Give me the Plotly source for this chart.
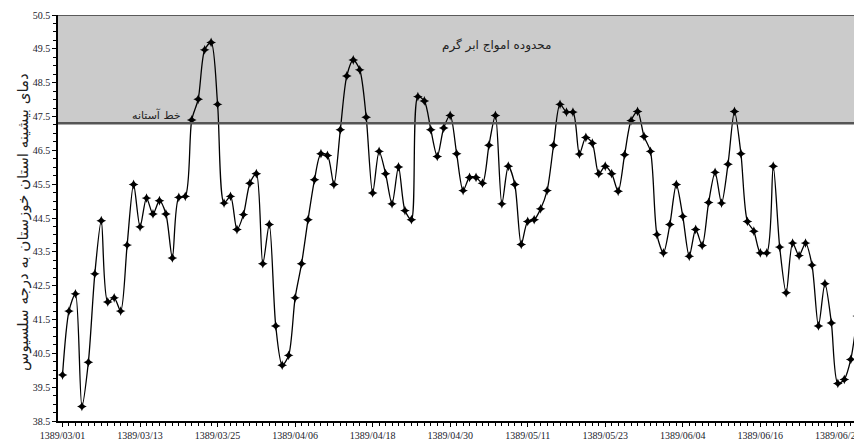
import plotly.graph_objects as go

# Daily maximum temperature, index 0 = 1389/03/01
temps = [39.86, 41.75, 42.26, 38.93, 40.24, 42.85, 44.42, 42.02, 42.14, 41.75,
         43.70, 45.49, 44.24, 45.09, 44.62, 45.01, 44.62, 43.32, 45.11, 45.14,
         47.40, 48.01, 49.47, 49.69, 47.86, 44.94, 45.14, 44.16, 44.60, 45.53,
         45.81, 43.15, 44.31, 41.31, 40.15, 40.44, 42.14, 43.15, 44.45, 45.63,
         46.40, 46.35, 45.49, 47.11, 48.70, 49.17, 48.88, 47.48, 45.24, 46.47,
         45.81, 44.92, 46.01, 44.72, 44.45, 48.09, 47.96, 47.11, 46.32, 47.16,
         47.53, 46.40, 45.31, 45.70, 45.70, 45.53, 46.65, 47.53, 44.92, 46.03,
         45.49, 43.72, 44.40, 44.45, 44.77, 45.31, 46.65, 47.86, 47.63, 47.63,
         46.39, 46.88, 46.71, 45.81, 46.03, 45.81, 45.29, 46.37, 47.38, 47.65,
         46.91, 46.47, 44.01, 43.47, 44.31, 45.49, 44.55, 43.37, 44.16, 43.69,
         44.96, 45.85, 44.94, 46.09, 47.65, 46.40, 44.40, 44.11, 43.47, 43.47,
         46.03, 43.64, 42.29, 43.76, 43.39, 43.76, 43.11, 41.31, 42.56, 41.40,
         39.61, 39.73, 40.32, 41.6]
days = list(range(len(temps)))

tick_days = [0, 12, 24, 36, 48, 60, 72, 84, 96, 108, 120]
tick_labels = ["1389/03/01", "1389/03/13", "1389/03/25", "1389/04/06", "1389/04/18",
               "1389/04/30", "1389/05/11", "1389/05/23", "1389/06/04", "1389/06/16",
               "1389/06/28"]
y_ticks = [38.5, 39.5, 40.5, 41.5, 42.5, 43.5, 44.5, 45.5, 46.5, 47.5, 48.5, 49.5, 50.5]

threshold = 47.3
y_min, y_max = 38.5, 50.5
x_min, x_max = -0.7, 122.5

fig = go.Figure()
fig.add_shape(type="rect", xref="paper", yref="y", x0=0, x1=1, y0=threshold, y1=y_max,
              fillcolor="rgb(203,203,203)", line=dict(width=0), layer="below")
fig.add_shape(type="line", xref="paper", yref="y", x0=0, x1=1, y0=threshold, y1=threshold,
              line=dict(color="rgb(85,85,85)", width=2.5))
fig.add_shape(type="line", xref="paper", yref="y", x0=0, x1=1, y0=y_max, y1=y_max,
              line=dict(color="rgb(90,90,90)", width=2))

fig.add_trace(go.Scatter(
    x=days, y=temps, mode="lines+markers",
    line=dict(color="black", width=1.3, shape="spline", smoothing=0.8),
    marker=dict(symbol="star-diamond", size=7, color="black"),
    cliponaxis=True, showlegend=False))

fig.add_annotation(x=0.551, xref="paper", y=49.6, yref="y", text="محدوده امواج ابر گرم",
                   showarrow=False, font=dict(family="DejaVu Sans", size=12, color="#222"))
fig.add_annotation(x=0.091, xref="paper", y=47.55, yref="y", text="خط آستانه",
                   showarrow=False, font=dict(family="DejaVu Sans", size=11, color="#222"))
fig.add_annotation(x=-0.058, xref="paper", y=0.49, yref="paper",
                   text="دمای بیشینه استان خوزستان به درجه سلسیوس",
                   textangle=-90, showarrow=False,
                   font=dict(family="DejaVu Sans", size=15, color="#222"))

fig.update_layout(
    template="none",
    width=854, height=443,
    margin=dict(l=58, r=0, t=15, b=22, autoexpand=False),
    paper_bgcolor="white", plot_bgcolor="white",
    font=dict(family="Liberation Sans Narrow", size=10, color="#1a1a2a"),
    xaxis=dict(range=[x_min, x_max], tickmode="array", tickvals=tick_days,
               ticktext=tick_labels, showgrid=False, zeroline=False, automargin=False,
               ticklabeloverflow="allow",
               showline=True, linecolor="black", linewidth=1.5,
               ticks="outside", ticklen=4, tickcolor="black",
               minor=dict(dtick=1, tick0=0, ticks="outside", ticklen=3, tickcolor="black"),
               tickfont=dict(size=10)),
    yaxis=dict(range=[y_min, y_max], tickmode="array", tickvals=y_ticks,
               ticktext=[f"{v:.1f}" for v in y_ticks], showgrid=False, zeroline=False,
               automargin=False,
               showline=True, linecolor="black", linewidth=1.5,
               ticks="outside", ticklen=4, tickcolor="black",
               minor=dict(dtick=0.25, tick0=38.5, ticks="outside", ticklen=3, tickcolor="black"),
               tickfont=dict(size=10)),
)

fig.write_html("out.html", config={"displayModeBar": False},
               post_script="document.body.style.margin='0';document.body.style.overflow='hidden';")
